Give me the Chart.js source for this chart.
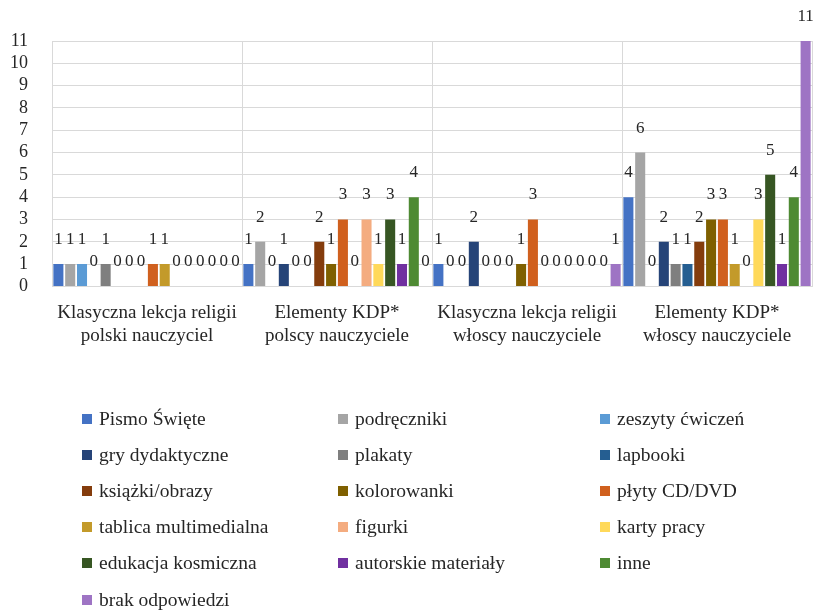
<!DOCTYPE html>
<html>
<head>
<meta charset="utf-8">
<script src="https://cdn.jsdelivr.net/npm/chart.js@4.4.0/dist/chart.umd.min.js"></script>
<style>
  html,body{margin:0;padding:0;background:#fff;}
  #wrap{position:relative;width:819px;height:610px;overflow:hidden;}
  #c{position:absolute;left:0;top:0;}
  #legend{position:absolute;left:0;top:0;width:819px;height:610px;font-family:"Liberation Serif","DejaVu Serif",serif;font-size:19.5px;color:#262626;}
  .li{position:absolute;white-space:nowrap;display:flex;align-items:center;height:24px;}
  .li span.b{display:inline-block;width:10px;height:10px;margin-right:7px;}
</style>
</head>
<body>
<div id="wrap">
<canvas id="c" width="819" height="362"></canvas>
<div id="legend"></div>
</div>
<script>
const categories = [
  ["Klasyczna lekcja religii","polski nauczyciel"],
  ["Elementy KDP*","polscy nauczyciele"],
  ["Klasyczna lekcja religii","włoscy nauczyciele"],
  ["Elementy KDP*","włoscy nauczyciele"]
];
const seriesNames = ["Pismo Święte","podręczniki","zeszyty ćwiczeń","gry dydaktyczne","plakaty","lapbooki","książki/obrazy","kolorowanki","płyty CD/DVD","tablica multimedialna","figurki","karty pracy","edukacja kosmiczna","autorskie materiały","inne","brak odpowiedzi"];
const seriesColors = ["#4472C4","#A5A5A5","#5B9BD5","#264478","#7F7F7F","#255E91","#843C0C","#7F6000","#D0601E","#C39A2A","#F4AC80","#FFD95A","#375623","#7030A0","#4E8A33","#9E74C4"];
// values per series: [group1, group2, group3, group4]
const pismo      = [1,1,1,4];
const podreczniki= [1,2,0,6];
const zeszyty    = [1,0,0,0];
const gry        = [0,1,2,2];
const plakaty    = [1,0,0,1];
const lapbooki   = [0,0,0,1];
const ksiazki    = [0,2,0,2];
const kolorowanki= [0,1,1,3];
const plyty      = [1,3,3,3];
const tablica    = [1,0,0,1];
const figurki    = [0,3,0,0];
const karty      = [0,1,0,3];
const edukacja   = [0,3,0,5];
const autorskie  = [0,1,0,1];
const inne       = [0,4,0,4];
const brak       = [0,0,1,11];
const seriesValues = [pismo,podreczniki,zeszyty,gry,plakaty,lapbooki,ksiazki,kolorowanki,plyty,tablica,figurki,karty,edukacja,autorskie,inne,brak];
const yTicks = [0,1,2,3,4,5,6,7,8,9,10,11];

const FONT = "'Liberation Serif','DejaVu Serif',serif";

const valueLabels = {
  id:'valueLabels',
  afterDatasetsDraw(chart){
    const ctx = chart.ctx;
    ctx.save();
    ctx.font = "17px " + FONT;
    ctx.fillStyle = "#262626";
    ctx.textAlign = "center";
    ctx.textBaseline = "alphabetic";
    chart.data.datasets.forEach((ds,i)=>{
      const meta = chart.getDatasetMeta(i);
      meta.data.forEach((bar,j)=>{
        const v = ds.data[j];
        ctx.fillText(String(v), bar.x, bar.y - 20);
      });
    });
    ctx.restore();
  }
};

const chart = new Chart(document.getElementById('c'), {
  type:'bar',
  data:{
    labels: categories,
    datasets: seriesNames.map((n,i)=>({
      label:n,
      data:seriesValues[i],
      backgroundColor:seriesColors[i],
      barPercentage:0.85,
      categoryPercentage:0.995
    }))
  },
  options:{
    responsive:false,
    animation:false,
    layout:{padding:{top:41,right:7,left:0,bottom:0}},
    plugins:{legend:{display:false},tooltip:{enabled:false}},
    scales:{
      x:{
        grid:{color:"#D9D9D9",offset:true,drawTicks:false},
        border:{color:"#D9D9D9"},
        ticks:{font:{family:FONT,size:19},color:"#262626",padding:15,maxRotation:0,minRotation:0,autoSkip:false}
      },
      y:{
        min:0,max:11,
        afterBuildTicks(scale){ scale.ticks = yTicks.map(v=>({value:v})); },
        afterFit(scale){ scale.width = 52; },
        grid:{color:"#D9D9D9",drawTicks:false},
        border:{display:false},
        ticks:{font:{family:FONT,size:18},color:"#262626",padding:24,autoSkip:false}
      }
    }
  },
  plugins:[valueLabels]
});

// HTML legend in 3 columns
const legend = document.getElementById('legend');
const colX = [82, 338, 600];
const rowY = [419, 455, 491, 527, 563, 600];
seriesNames.forEach((n,i)=>{
  const d = document.createElement('div');
  d.className='li';
  d.style.left = colX[i%3] + 'px';
  d.style.top = (rowY[Math.floor(i/3)] - 12) + 'px';
  const b = document.createElement('span');
  b.className='b';
  b.style.background = seriesColors[i];
  d.appendChild(b);
  d.appendChild(document.createTextNode(n));
  legend.appendChild(d);
});
</script>
</body>
</html>
